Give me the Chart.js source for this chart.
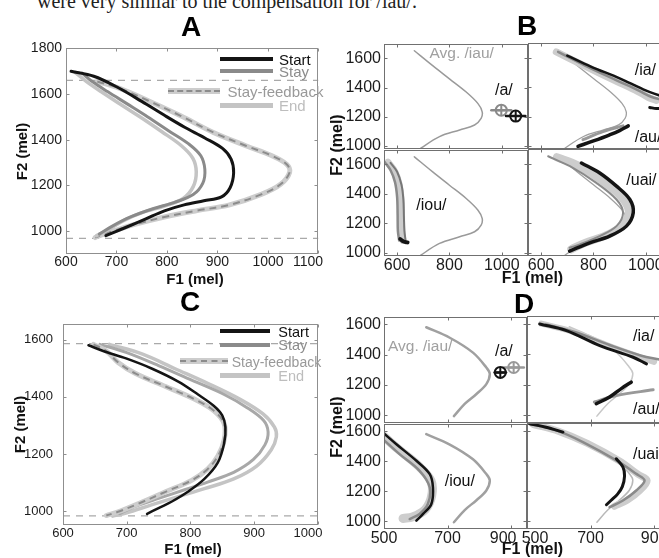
<!DOCTYPE html>
<html>
<head>
<meta charset="utf-8">
<script src="https://cdn.jsdelivr.net/npm/chart.js@4.4.1/dist/chart.umd.min.js"></script>
<style>
  html, body { margin: 0; padding: 0; background: #fff; }
  #page { position: relative; width: 659px; height: 558px; overflow: hidden; font-family: "Liberation Sans", Arial, sans-serif; }
  #page canvas { position: absolute; }
  .t { position: absolute; white-space: nowrap; line-height: 1; }
  .sw { position: absolute; }
</style>
</head>
<body>
<div id="page"></div>
<script>
// F1 / F2 formant trajectories in mel as [F1, F2] pairs

// ---- panel A ----
const aStart = [[679,980],[718,1016],[757,1053],[795,1089],[834,1115],[873,1133],[908,1150],[925,1190],[932,1255],[927,1315],[910,1362],[875,1408],[835,1455],[795,1507],[750,1568],[700,1632],[655,1678],[610,1700]]
const aStay = [[666,987],[690,1020],[728,1062],[772,1098],[815,1126],[852,1160],[871,1210],[875,1270],[867,1330],[843,1382],[803,1440],[762,1500],[722,1556],[683,1610],[652,1655],[632,1692]]
const aEnd = [[660,980],[682,1004],[714,1046],[752,1082],[795,1110],[832,1143],[852,1195],[858,1260],[851,1320],[828,1375],[790,1435],[750,1495],[710,1552],[670,1610],[640,1656],[618,1695]]
const aStayFb = [[662,1655],[705,1626],[763,1571],[827,1505],[892,1432],[956,1374],[1008,1330],[1037,1293],[1043,1258],[1025,1205],[988,1162],[924,1115],[860,1090],[795,1062],[740,1032],[700,1005],[672,985],[658,972]]
const aRef = [1660, 968]
const aXTicks = [600, 700, 800, 900, 1000, 1100]
const aYTicks = [1000, 1200, 1400, 1600, 1800]

// ---- panel C ----
const cStart = [[640,1580],[663,1560],[699,1534],[740,1498],[781,1453],[812,1408],[837,1368],[850,1335],[855,1294],[853,1238],[843,1170],[822,1113],[796,1068],[771,1034],[750,1011],[732,991]]
const cStay = [[658,1583],[699,1555],[750,1509],[802,1458],[853,1408],[889,1362],[915,1317],[922,1277],[917,1232],[899,1181],[868,1136],[827,1102],[791,1075],[750,1045],[715,1018],[689,992]]
const cEnd = [[673,1583],[725,1549],[776,1498],[827,1447],[878,1391],[914,1340],[932,1294],[935,1260],[927,1215],[904,1158],[868,1113],[822,1079],[781,1051],[740,1023],[699,994],[678,983]]
const cStayFb = [[648,1583],[668,1560],[686,1521],[714,1481],[761,1436],[807,1391],[837,1351],[853,1306],[853,1249],[843,1192],[827,1147],[802,1108],[761,1068],[720,1028],[689,1000],[668,985]]
const cRef = [1586, 984]
const cXTicks = [600, 700, 800, 900, 1000]
const cYTicks = [1000, 1200, 1400, 1600]

// ---- panel B ----
const bAvg = [[666,1651],[736,1549],[800,1459],[864,1369],[909,1290],[925,1234],[921,1189],[896,1144],[839,1110],[762,1065],[692,987],[682,970]]
const bAF1 = [998, 1053]      // /a/ : stay (gray), start (black)
const bAF2 = [1245, 1205]
const bASd = [38, 37]
const bIaBand = [[658,1639],[760,1549],[888,1440],[970,1370],[1010,1330],[1040,1310]]
const bIaGray = [[665,1640],[770,1545],[890,1445],[975,1375],[1020,1335],[1060,1315]]
const bIaBlack = [[700,1615],[790,1540],[900,1460],[990,1385],[1050,1345],[1080,1330]]
const bIaHook = [[1015,1262],[1040,1255],[1080,1258]]
const bAuGray = [[760,1043],[836,1098],[913,1137]]
const bAuBlack = [[741,998],[800,1035],[860,1075],[900,1105],[933,1137]]
const bIouA = [[553,1615],[575,1560],[592,1480],[600,1380],[602,1260],[603,1150],[608,1085]]
const bIouB = [[565,1615],[590,1555],[607,1470],[615,1370],[617,1250],[618,1150],[622,1085]]
const bIouC = [[575,1610],[600,1550],[617,1460],[624,1360],[626,1250],[628,1150],[632,1090]]
const bIouBlack = [[612,1095],[625,1078],[640,1072]]
const bUaiBand = [[660,1645],[740,1590],[830,1490],[905,1380],[935,1280],[910,1185],[850,1120],[770,1070],[715,1025]]
const bUaiGray = [[627,1651],[710,1584],[811,1472],[888,1360],[913,1271],[888,1181],[824,1114],[748,1058],[709,1036]]
const bUaiBlack = [[754,1606],[824,1539],[888,1450],[939,1360],[952,1271],[926,1181],[862,1114],[786,1069],[709,1013]]
const bXTicks = [600, 800, 1000]
const bYTicks = [1000, 1200, 1400, 1600]

// ---- panel D ----
const dAvg = [[633,1580],[707,1511],[780,1413],[822,1315],[833,1272],[822,1206],[791,1141],[754,1076],[720,995]]
const dAF1 = [866, 908]       // /a/ : start (black), stay (gray)
const dAF2 = [1283, 1315]
const dASd = [18, 32]
const dIaBand = [[545,1600],[640,1550],[750,1460],[850,1385],[900,1350]]
const dIaGray = [[560,1595],[650,1545],[760,1460],[860,1390],[917,1365],[960,1345]]
const dIaBlack = [[540,1598],[624,1554],[729,1456],[834,1380],[876,1337]]
const dAuGray = [[712,1087],[781,1130],[897,1167]]
const dAuBlack = [[828,1217],[800,1180],[760,1120],[718,1076]]
const dIouBand = [[497,1570],[545,1480],[608,1370],[648,1270],[650,1170],[630,1080],[590,1030],[560,1020]]
const dIouGray = [[497,1546],[549,1447],[612,1336],[644,1226],[638,1116],[612,1050],[581,1016]]
const dIouBlack = [[497,1590],[539,1513],[602,1403],[644,1314],[654,1226],[649,1116],[623,1050],[602,1005]]
const dUaiBand = [[520,1640],[600,1595],[690,1515],[790,1400],[850,1310],[878,1270],[855,1205],[815,1140],[775,1100]]
const dUaiGray = [[508,1645],[592,1601],[676,1524],[781,1403],[844,1314],[870,1270],[844,1204],[802,1138],[760,1094]]
const dUaiBlackTop = [[508,1645],[560,1622],[613,1590]]
const dUaiBlack = [[781,1414],[802,1359],[807,1300],[800,1230],[785,1180],[765,1140],[750,1110]]
const dXTicks = [500, 700, 900]
const dYTicks = [1000, 1200, 1400, 1600]

const BLACK = '#141414', GRAY = '#8a8a8a', LIGHT = '#c4c4c4', BAND = '#cdcdcd'
const PAD = { l: 60, r: 20, t: 12, b: 24 }
const page = document.getElementById('page')

Chart.defaults.font.family = '"Liberation Sans", Arial, sans-serif'

function line(arr, color, width, dash, tension) {
  return {
    data: arr.map(p => ({ x: p[0], y: p[1] })),
    showLine: true, fill: false, pointRadius: 0,
    borderColor: color, borderWidth: width, borderDash: dash || [],
    tension: tension === undefined ? 0.35 : tension,
    borderCapStyle: dash ? 'butt' : 'round', borderJoinStyle: 'round',
  }
}
function hline(x0, x1, y) {
  return line([[x0, y], [x1, y]], '#a9a9a9', 1.2, [7, 6], 0)
}
// circle + cross with a horizontal spread bar
function marker(x, y, sd, color) {
  const pt = [{ x, y }]
  return [
    line([[x - sd, y], [x + sd, y]], color, 2.5, null, 0),
    { data: pt, showLine: false, pointStyle: 'circle', pointRadius: 5.5, borderWidth: 2, borderColor: color, backgroundColor: 'rgba(0,0,0,0)' },
    { data: pt, showLine: false, pointStyle: 'cross', pointRadius: 5.5, borderWidth: 2, borderColor: color },
  ]
}

// full box with inward MATLAB style tick marks
const boxPlugin = {
  id: 'box',
  afterDraw(chart, args, o) {
    const { ctx, chartArea: a, scales } = chart
    const L = Math.round(a.left) + 0.5, R = Math.round(a.right) - 0.5
    const T = Math.round(a.top) + 0.5, B = Math.round(a.bottom) - 0.5
    ctx.save()
    ctx.strokeStyle = o.color
    ctx.lineWidth = 1
    ctx.strokeRect(L, T, R - L, B - T)
    ctx.beginPath()
    scales.x.ticks.forEach(t => {
      const p = Math.round(scales.x.getPixelForValue(t.value)) + 0.5
      ctx.moveTo(p, B); ctx.lineTo(p, B - 3)
      ctx.moveTo(p, T); ctx.lineTo(p, T + 3)
    })
    scales.y.ticks.forEach(t => {
      const p = Math.round(scales.y.getPixelForValue(t.value)) + 0.5
      ctx.moveTo(L, p); ctx.lineTo(L + 3, p)
      ctx.moveTo(R, p); ctx.lineTo(R - 3, p)
    })
    ctx.stroke()
    ctx.restore()
  }
}

// box = [left, top, width, height] of the plot area on the page
function panel(box, ax, datasets) {
  const [l, t, w, h] = box
  const c = document.createElement('canvas')
  c.width = PAD.l + w + PAD.r
  c.height = PAD.t + h + PAD.b
  c.style.left = (l - PAD.l) + 'px'
  c.style.top = (t - PAD.t) + 'px'
  page.appendChild(c)
  const lab = v => String(v)
  new Chart(c, {
    type: 'scatter',
    // first listed is drawn at the bottom
    data: { datasets: datasets.slice().reverse() },
    options: {
      responsive: false, animation: false, events: [], devicePixelRatio: 1,
      layout: { autoPadding: false, padding: { left: 0, right: PAD.r, top: PAD.t, bottom: 0 } },
      plugins: { legend: { display: false }, tooltip: { enabled: false }, box: { color: ax.box } },
      scales: {
        x: {
          type: 'linear', min: ax.x[0], max: ax.x[1],
          grid: { display: false, drawTicks: false }, border: { display: false },
          afterBuildTicks: s => { s.ticks = ax.xt.map(v => ({ value: v })) },
          afterFit: s => { s.height = PAD.b },
          ticks: { display: !!ax.showX, padding: ax.xPad, color: '#1c1c1c', font: { size: ax.fs },
                   maxRotation: 0, autoSkip: false, callback: ax.xLab || lab },
        },
        y: {
          type: 'linear', min: ax.y[0], max: ax.y[1],
          grid: { display: false, drawTicks: false }, border: { display: false },
          afterBuildTicks: s => { s.ticks = ax.yt.map(v => ({ value: v })) },
          afterFit: s => { s.width = PAD.l },
          ticks: { display: !!ax.showY, padding: ax.yPad, color: '#1c1c1c', font: { size: ax.fs },
                   autoSkip: false, callback: lab },
        },
      },
    },
    plugins: [boxPlugin],
  })
}

function stayFb(arr) {
  return [line(arr, BAND, 5), line(arr, '#8c8c8c', 2, [7, 5])]
}

// ---- A ----
panel([66, 48, 258, 206],
  { x: [600, 1100], y: [900, 1800], xt: aXTicks, yt: aYTicks, showX: true, showY: true, fs: 14, xPad: 0, yPad: 4, box: '#8f8f8f',
    xLab: v => v === 1100 ? '1100\u2002\u2002\u2002' : String(v) },
  [hline(600, 1100, aRef[0]), hline(600, 1100, aRef[1]),
   ...stayFb(aStayFb),
   line(aEnd, LIGHT, 3.5), line(aStay, GRAY, 3), line(aStart, BLACK, 3)])

// ---- C ----
panel([63, 318, 260, 207],
  { x: [600, 1000], y: [952, 1655], xt: cXTicks, yt: cYTicks, showX: true, showY: true, fs: 13, xPad: 1, yPad: 10, box: '#8f8f8f',
    xLab: v => v === 1000 ? '1000\u2002\u2002\u2002' : String(v) },
  [hline(600, 1000, cRef[0]), hline(600, 1000, cRef[1]),
   line(cEnd, LIGHT, 3.5), line(cStay, '#a8a8a8', 3),
   ...stayFb(cStayFb), line(cStart, BLACK, 2.5)])

// ---- B ----
const bAx = { x: [550, 1100], y: [980, 1700], xt: bXTicks, yt: bYTicks, fs: 16, xPad: 0, yPad: 3, box: '#707070' }
panel([384, 43, 144, 106], { ...bAx, showY: true },
  [line(bAvg, '#9a9a9a', 1.5),
   ...marker(bAF1[0], bAF2[0], bASd[0], GRAY), ...marker(bAF1[1], bAF2[1], bASd[1], BLACK)])
panel([528, 43, 144, 106], bAx,
  [line(bAvg, '#a0a0a0', 1.3),
   line(bIaBand, BAND, 7), line(bIaGray, GRAY, 2.5), line(bIaBlack, BLACK, 2.5), line(bIaHook, BLACK, 3),
   line(bAuGray, '#999', 3), line(bAuBlack, BLACK, 3.5)])
panel([384, 149, 144, 107], { ...bAx, showX: true, showY: true },
  [line(bAvg, '#9a9a9a', 1.5),
   line(bIouB, BAND, 7), line(bIouA, GRAY, 2.5), line(bIouC, '#777', 2), line(bIouBlack, BLACK, 4)])
panel([528, 149, 144, 107], { ...bAx, showX: true },
  [line(bAvg, '#a0a0a0', 1.3),
   line(bUaiBand, BAND, 8), line(bUaiGray, GRAY, 2), line(bUaiBlack, BLACK, 3.5)])

// ---- D ----
const dAx = { x: [500, 950], y: [950, 1650], xt: dXTicks, yt: dYTicks, fs: 16, xPad: 0, yPad: 3, box: '#707070' }
panel([384, 316, 143, 107], { ...dAx, showY: true },
  [line(dAvg, '#a0a0a0', 2.5),
   ...marker(dAF1[1], dAF2[1], dASd[1], '#999'), ...marker(dAF1[0], dAF2[0], dASd[0], BLACK)])
panel([527, 316, 143, 107], dAx,
  [line(dAvg, '#c8c8c8', 1.5),
   line(dIaBand, BAND, 6), line(dIaGray, GRAY, 2.5), line(dIaBlack, BLACK, 3),
   line(dAuGray, '#999', 3), line(dAuBlack, BLACK, 3.5)])
panel([384, 423, 143, 106], { ...dAx, showX: true, showY: true,
    xLab: v => v === 900 ? '900\u2002\u2002' : String(v) },
  [line(dAvg, '#a0a0a0', 2.5),
   line(dIouBand, BAND, 9), line(dIouGray, GRAY, 2.5), line(dIouBlack, BLACK, 2.5)])
panel([527, 423, 143, 106], { ...dAx, showX: true,
    xLab: v => v === 500 ? '\u2002\u2002500' : String(v) },
  [line(dAvg, '#b8b8b8', 1.5),
   line(dUaiBand, BAND, 7), line(dUaiGray, GRAY, 2.5), line(dUaiBlack, BLACK, 3), line(dUaiBlackTop, BLACK, 3)])

// ---- text overlay ----
function text(s, x, cy, fs, color, opt) {
  opt = opt || {}
  const d = document.createElement('div')
  d.className = 't'
  d.textContent = s
  d.style.fontSize = fs + 'px'
  d.style.color = color
  d.style.left = x + 'px'
  d.style.top = (opt.base !== undefined ? opt.base - 0.8465 * fs : cy - 0.5 * fs) + 'px'
  if (opt.bold) d.style.fontWeight = 'bold'
  if (opt.family) d.style.fontFamily = opt.family
  let tr = ''
  if (opt.center) tr += 'translateX(-50%) '
  if (opt.rot) { d.style.top = (cy - fs / 2) + 'px'; tr = 'translateX(-50%) rotate(-90deg)' }
  if (tr) d.style.transform = tr
  d.style.zIndex = 5
  page.appendChild(d)
}
function swatch(x0, x1, cy, h, color, dashed) {
  const d = document.createElement('div')
  d.className = 'sw'
  d.style.left = x0 + 'px'
  d.style.width = (x1 - x0) + 'px'
  d.style.top = (cy - h / 2) + 'px'
  d.style.height = h + 'px'
  d.style.background = color
  d.style.zIndex = 5
  page.appendChild(d)
  if (dashed) {
    const e = document.createElement('div')
    e.className = 'sw'
    e.style.left = x0 + 'px'
    e.style.width = (x1 - x0) + 'px'
    e.style.top = (cy - 1) + 'px'
    e.style.height = '0px'
    e.style.borderTop = '2px dashed ' + dashed
    e.style.zIndex = 6
    page.appendChild(e)
  }
}

text('were very similar to the compensation for /iau/.', 37, 0, 20, '#222',
  { base: 7.5, family: '"Liberation Serif", "Times New Roman", serif' })

text('A', 191, 0, 28, '#000', { base: 36.5, bold: true, center: true })
text('B', 527, 0, 28, '#000', { base: 35.5, bold: true, center: true })
text('C', 190, 0, 28, '#000', { base: 312, bold: true, center: true })
text('D', 524, 0, 28, '#000', { base: 314, bold: true, center: true })

text('F2 (mel)', 20.5, 151, 15, '#111', { bold: true, rot: true })
text('F1 (mel)', 195, 0, 15, '#111', { base: 284, bold: true, center: true })
text('F2 (mel)', 19, 424, 15, '#111', { bold: true, rot: true })
text('F1 (mel)', 193, 0, 15, '#111', { base: 554, bold: true, center: true })
text('F2 (mel)', 337, 145, 16, '#111', { bold: true, rot: true })
text('F1 (mel)', 532.5, 0, 16, '#111', { base: 284, bold: true, center: true })
text('F2 (mel)', 337, 427, 16, '#111', { bold: true, rot: true })
text('F1 (mel)', 532.5, 0, 16, '#111', { base: 555, bold: true, center: true })

// legend A
swatch(220, 273, 59.3, 4, BLACK)
swatch(220, 273, 71, 4, GRAY)
swatch(168, 220, 90.7, 6, BAND, '#8c8c8c')
swatch(220, 273, 105, 5, LIGHT)
text('Start', 279, 59.8, 15, '#111')
text('Stay', 279, 71.8, 15, '#8c8c8c')
text('Stay-feedback', 227.5, 91, 15, '#999')
text('End', 279, 105.5, 15, '#bdbdbd')

// legend C
swatch(220, 270, 330.7, 4, BLACK)
swatch(220, 270, 344.7, 4, GRAY)
swatch(180, 228, 361.3, 6, BAND, '#8c8c8c')
swatch(220, 270, 375.7, 5, LIGHT)
text('Start', 278.3, 332, 14.5, '#111')
text('Stay', 278.3, 345.5, 14.5, '#8c8c8c')
text('Stay-feedback', 231.7, 361.8, 14, '#999')
text('End', 278.3, 376, 14.5, '#bdbdbd')

// labels B
text('Avg. /iau/', 429.5, 52.7, 15.5, '#a0a0a0')
text('/a/', 495, 90, 16, '#111')
text('/ia/', 634.7, 70, 16, '#111')
text('/au/', 634.7, 136.7, 16, '#111')
text('/iou/', 416.3, 205, 16, '#111')
text('/uai/', 626.3, 180, 16, '#111')

// labels D
text('Avg. /iau/', 388, 345.7, 15.5, '#a0a0a0')
text('/a/', 495, 350.7, 16, '#111')
text('/ia/', 633, 335.7, 16, '#111')
text('/au/', 633, 409, 16, '#111')
text('/iou/', 444.7, 480.7, 16, '#111')
text('/uai', 633, 454, 16, '#111')
</script>
</body>
</html>
